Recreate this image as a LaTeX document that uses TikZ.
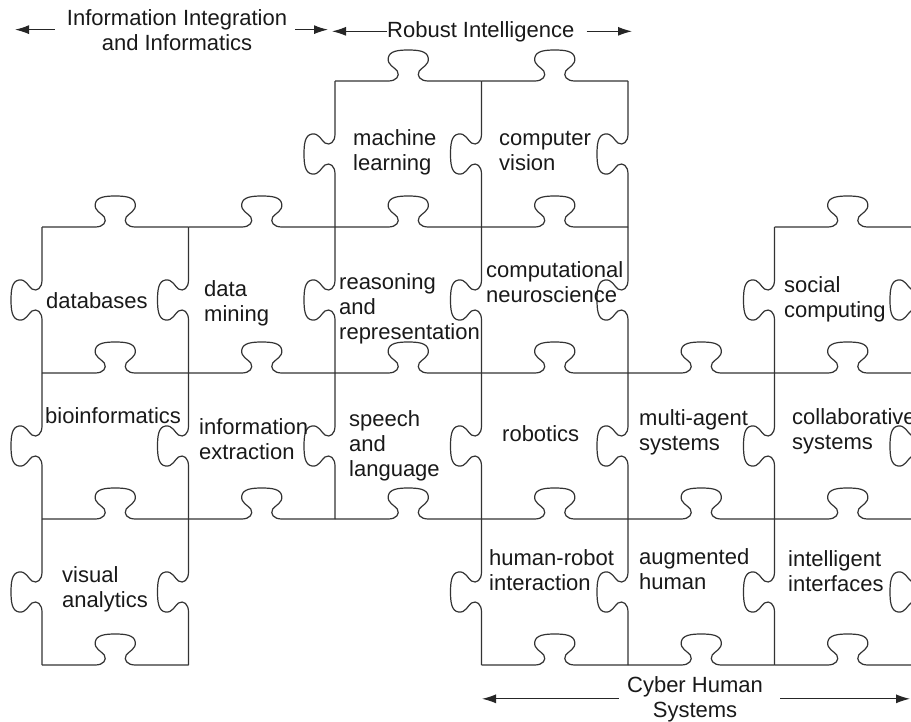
\documentclass[tikz,border=0pt]{standalone}
\usepackage{fontspec}
\setmainfont{Liberation Sans}
\usetikzlibrary{arrows.meta}

\tikzset{
  seamline/.style={line width=1.2pt, draw=black!80, line join=round},
  % one edge of the puzzle grid, tab bulging to the local "up"
  pics/seam/.style={code={
    \draw[seamline] (0,0) -- ({#1/2-20},0)
      .. controls ({#1/2-12},0) and ({#1/2-8},-5) .. ({#1/2-11},-10)
      .. controls ({#1/2-14},-14) and ({#1/2-21},-16) .. ({#1/2-20},-23)
      .. controls ({#1/2-19},-30) and ({#1/2-10},-31) .. ({#1/2},-31)
      .. controls ({#1/2+10},-31) and ({#1/2+19},-30) .. ({#1/2+20},-23)
      .. controls ({#1/2+21},-16) and ({#1/2+14},-14) .. ({#1/2+11},-10)
      .. controls ({#1/2+8},-5) and ({#1/2+12},0) .. ({#1/2+20},0)
      -- (#1,0);
  }},
  lbl/.style={anchor=base west, align=left, inner sep=0pt, text=black!90},
  area/.style={align=center, inner sep=0pt, text=black!90},
  arr/.style={-{Latex[length=14pt,width=9pt]}, line width=1.1pt, draw=black!85}
}

\begin{document}
\begin{tikzpicture}[x=1pt, y=-1pt, font=\fontsize{22}{25}\selectfont]
\useasboundingbox (0,0) rectangle (911,721);

\begin{scope}
\clip (0,0) rectangle (911,721);
% horizontal seams
\foreach \c in {2,3} \pic at ({42+146.5*\c},81) {seam=146.5};
\foreach \c in {0,1,2,3,5} \pic at ({42+146.5*\c},227) {seam=146.5};
\foreach \c in {0,...,5} \pic at ({42+146.5*\c},373) {seam=146.5};
\foreach \c in {0,...,5} \pic at ({42+146.5*\c},519) {seam=146.5};
\foreach \c in {0,3,4,5} \pic at ({42+146.5*\c},665) {seam=146.5};
% vertical seams (column line / row)
\foreach \j/\r in {0/1,0/2,0/3, 1/1,1/2,1/3, 2/0,2/1,2/2,
                   3/0,3/1,3/2,3/3, 4/0,4/1,4/2,4/3,
                   5/1,5/2,5/3, 6/1,6/2,6/3}
  \pic[rotate=90] at ({42+146.5*\j},{81+146*(\r+1)}) {seam=146};
\end{scope}

% pieces (base = last line)
\node[lbl] (ml)  at (353,170) {machine\\learning};
\node[lbl] (cv)  at (499,170) {computer\\vision};
\node[lbl] (db)  at (46,308)  {databases};
\node[lbl] (dm)  at (204,321) {data\\mining};
\node[lbl] (rr)  at (339,339) {reasoning\\and\\representation};
\node[lbl] (cn)  at (486,302) {computational\\neuroscience};
\node[lbl] (sc)  at (784,317) {social\\computing};
\node[lbl] (bio) at (45,423)  {bioinformatics};
\node[lbl] (ie)  at (199,459) {information\\extraction};
\node[lbl] (sl)  at (349,476) {speech\\and\\language};
\node[lbl] (rob) at (502,441) {robotics};
\node[lbl] (mas) at (639,450) {multi-agent\\systems};
\node[lbl] (cs)  at (792,449) {collaborative\\systems};
\node[lbl] (hri) at (489,590) {human-robot\\interaction};
\node[lbl] (ah)  at (639,589) {augmented\\human};
\node[lbl] (ii)  at (788,591) {intelligent\\interfaces};
\node[lbl] (va)  at (62,607)  {visual\\analytics};

% areas
\node[area, anchor=base] (iii) at (177,50) {Information Integration\\and Informatics};
\node[area, anchor=base west] (ri) at (387,37) {Robust Intelligence};
\node[area, anchor=base] (chs) at (695,717) {Cyber Human\\Systems};

\coordinate (iiiL) at (15,29);
\coordinate (iiiR) at (328,31);
\coordinate (riL) at (332,31);
\coordinate (riR) at (632,31);
\coordinate (chsL) at (482,696);
\coordinate (chsR) at (910,696);

\draw[arr, shorten <=12pt] (iii.west) -- (iiiL |- iii.west);
\draw[arr, shorten <=8pt] (iii.east) -- (iiiR |- iii.east);
\draw[arr] (ri.west) -- (riL |- ri.west);
\draw[arr, shorten <=12pt] (ri.east) -- (riR |- ri.east);
\draw[arr, shorten <=8pt] (chs.west) -- (chsL |- chs.west);
\draw[arr, shorten <=17pt] (chs.east) -- (chsR |- chs.east);
\end{tikzpicture}
\end{document}
